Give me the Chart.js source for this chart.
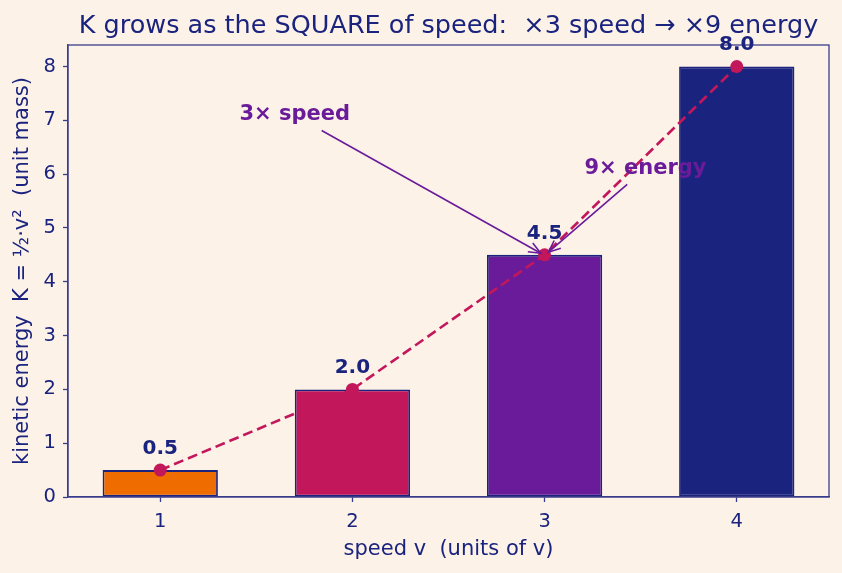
<!DOCTYPE html>
<html><head><meta charset="utf-8">
<script src="https://cdn.jsdelivr.net/npm/chart.js@4/dist/chart.umd.min.js"></script>
<style>html,body{margin:0;padding:0;background:#fdf2e8;}canvas{display:block;}</style>
</head><body>
<div style="width:842px;height:573px;"><canvas id="c" width="842" height="573"></canvas></div>
<script>
const speeds = [1, 2, 3, 4];
const energies = [0.5, 2.0, 4.5, 8.0];
const valueLabels = ['0.5', '2.0', '4.5', '8.0'];
const titleText = 'K grows as the SQUARE of speed:  \u00d73 speed \u2192 \u00d79 energy';
const xTitle = 'speed v  (units of v)';
const yTitle = 'kinetic energy  K = \u00bd\u00b7v\u00b2  (unit mass)';
const annotations = [
  { text: '3\u00d7 speed', tx: 1.7, ty: 7.1, fromX: 1.84, fromY: 6.81, toX: 2.98, toY: 4.53 },
  { text: '9\u00d7 energy', tx: 3.525, ty: 6.1, fromX: 3.43, fromY: 5.81, toX: 3.02, toY: 4.55 }
];

const BG = '#fdf2e8';
const NAVY = '#1a237e';
const FRAME = '#3a3d8c';
const PURPLE = '#6a1b9a';
const CRIMSON = '#c2185b';
const barColors = ['#ef6c00', '#c2185b', '#6a1b9a', '#1a237e'];
const FONT = "'DejaVu Sans', sans-serif";

const bgPlugin = {
  id: 'bg',
  beforeDraw(chart) {
    const ctx = chart.ctx;
    ctx.save();
    ctx.fillStyle = BG;
    ctx.fillRect(0, 0, chart.width, chart.height);
    ctx.restore();
  }
};

const decoPlugin = {
  id: 'deco',
  afterDraw(chart) {
    const ctx = chart.ctx;
    const a = chart.chartArea;
    const xs = chart.scales.x, ys = chart.scales.y;
    ctx.save();
    // frame
    ctx.strokeStyle = FRAME;
    ctx.lineWidth = 1.3;
    ctx.strokeRect(a.left, a.top, a.right - a.left, a.bottom - a.top);
    // title
    ctx.fillStyle = NAVY;
    ctx.font = "25.5px " + FONT;
    ctx.textAlign = 'center';
    ctx.textBaseline = 'alphabetic';
    ctx.fillText(titleText, (a.left + a.right) / 2, 33);
    // value labels
    ctx.font = "bold 20px " + FONT;
    ctx.textBaseline = 'middle';
    speeds.forEach((s, i) => {
      ctx.fillText(valueLabels[i], xs.getPixelForValue(s), ys.getPixelForValue(energies[i]) - 21.5);
    });
    // annotations
    annotations.forEach(an => {
      const x1 = xs.getPixelForValue(an.fromX), y1 = ys.getPixelForValue(an.fromY);
      const x2 = xs.getPixelForValue(an.toX), y2 = ys.getPixelForValue(an.toY);
      ctx.strokeStyle = PURPLE;
      ctx.lineWidth = 1.6;
      ctx.beginPath(); ctx.moveTo(x1, y1); ctx.lineTo(x2, y2); ctx.stroke();
      const ang = Math.atan2(y2 - y1, x2 - x1);
      const hl = 13, hw = 0.4;
      ctx.beginPath();
      ctx.moveTo(x2 - hl * Math.cos(ang - hw), y2 - hl * Math.sin(ang - hw));
      ctx.lineTo(x2, y2);
      ctx.lineTo(x2 - hl * Math.cos(ang + hw), y2 - hl * Math.sin(ang + hw));
      ctx.stroke();
      ctx.fillStyle = PURPLE;
      ctx.font = "bold 21px " + FONT;
      ctx.textAlign = 'center';
      ctx.textBaseline = 'middle';
      ctx.fillText(an.text, xs.getPixelForValue(an.tx), ys.getPixelForValue(an.ty));
    });
    ctx.restore();
  }
};

new Chart(document.getElementById('c'), {
  type: 'bar',
  data: {
    datasets: [
      {
        type: 'line',
        data: speeds.map((s, i) => ({ x: s, y: energies[i] })),
        borderColor: CRIMSON,
        borderWidth: 2.6,
        borderDash: [10, 5],
        pointRadius: 6.5,
        pointBackgroundColor: CRIMSON,
        pointBorderWidth: 0,
        fill: false,
        tension: 0,
        order: 0
      },
      {
        type: 'bar',
        data: speeds.map((s, i) => ({ x: s, y: energies[i] })),
        backgroundColor: barColors,
        borderColor: NAVY,
        borderWidth: 1.8,
        borderSkipped: false,
        barPercentage: 0.6,
        categoryPercentage: 1.0,
        order: 1
      }
    ]
  },
  options: {
    responsive: false,
    animation: false,
    layout: { padding: { left: 0, right: 13, top: 45, bottom: 0 } },
    plugins: { legend: { display: false }, tooltip: { enabled: false }, title: { display: false } },
    scales: {
      x: {
        type: 'linear',
        min: 0.52, max: 4.48,
        offset: false,
        grid: { display: true, offset: false, drawOnChartArea: false, drawTicks: true, tickLength: 5, color: FRAME, tickWidth: 1.3 },
        border: { display: true, color: FRAME, width: 1.3 },
        ticks: { stepSize: 1, includeBounds: false, color: NAVY, font: { family: FONT, size: 19.5 }, padding: 8,
                 callback: v => String(v) },
        title: { display: true, text: xTitle, color: NAVY, font: { family: FONT, size: 21 }, padding: { top: 0, bottom: 11 } },
        afterFit(scale) { scale.height = 76; }
      },
      y: {
        min: 0, max: 8.4,
        grid: { display: true, drawOnChartArea: false, drawTicks: true, tickLength: 5, color: FRAME, tickWidth: 1.3 },
        border: { display: true, color: FRAME, width: 1.3 },
        ticks: { stepSize: 1, includeBounds: false, color: NAVY, font: { family: FONT, size: 19.5 }, padding: 7 },
        title: { display: true, text: yTitle, color: NAVY, font: { family: FONT, size: 21 }, padding: { top: 10, bottom: 0 } },
        afterFit(scale) { scale.width = 68; }
      }
    }
  },
  plugins: [bgPlugin, decoPlugin]
});
</script>
</body></html>
